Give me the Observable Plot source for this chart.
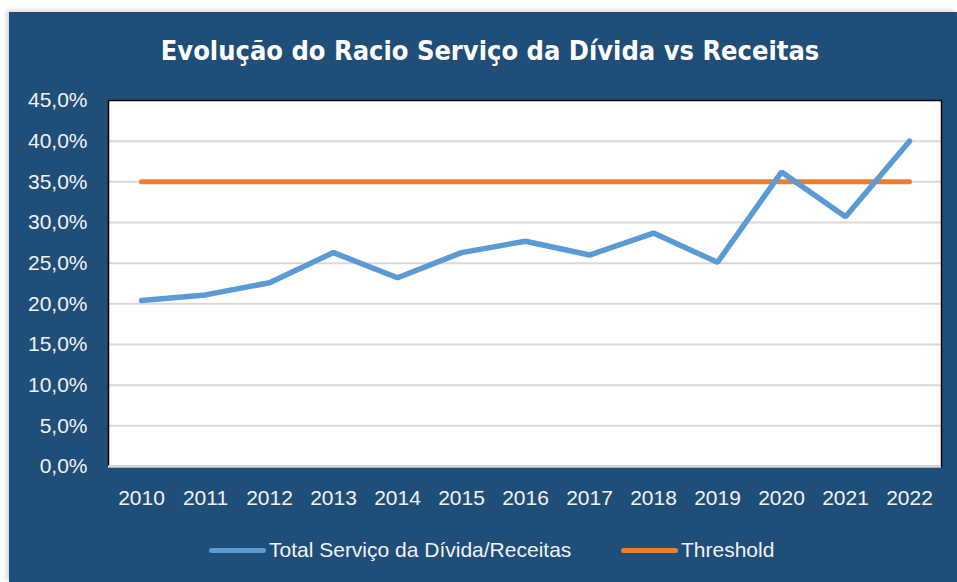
<!DOCTYPE html>
<html>
<head>
<meta charset="utf-8">
<script src="https://cdn.jsdelivr.net/npm/d3@7"></script>
<script src="https://cdn.jsdelivr.net/npm/@observablehq/plot@0.6"></script>
<style>
  html, body { margin: 0; padding: 0; background: #ffffff; width: 957px; height: 582px; overflow: hidden; }
  #panel { position: absolute; left: 9px; top: 12px; width: 948px; height: 570px; background: #1F4E79; box-shadow: -3px -2px 4px rgba(0,0,0,0.15); }
  #title { position: absolute; left: 16px; top: 31px; width: 948px; text-align: center; color: #ffffff;
           font-family: "Liberation Sans Narrow", "DejaVu Sans Condensed", sans-serif; font-weight: bold; font-size: 27px; line-height: 40px; }
  #chart { position: absolute; left: 0; top: 80px; }
  .leg { position: absolute; top: 536px; height: 28px; display: flex; align-items: center; color: #f2f2f2;
         font-family: "Liberation Sans", Arial, sans-serif; font-size: 21px; }
  .sw { width: 57px; height: 5px; border-radius: 3px; margin-right: 3px; }
</style>
</head>
<body>
<div id="panel"></div>
<div id="title">Evolução do Racio Serviço da Dívida vs Receitas</div>
<div id="chart"></div>
<div class="leg" style="left:209px"><div class="sw" style="background:#5B9BD5"></div>Total Serviço da Dívida/Receitas</div>
<div class="leg" style="left:621px"><div class="sw" style="background:#ED7D31"></div>Threshold</div>
<script>
const years = ["2010","2011","2012","2013","2014","2015","2016","2017","2018","2019","2020","2021","2022"];
const ratio = [0.204, 0.211, 0.226, 0.263, 0.232, 0.263, 0.277, 0.260, 0.287, 0.251, 0.362, 0.307, 0.400];
const threshold = [0.35, 0.35, 0.35, 0.35, 0.35, 0.35, 0.35, 0.35, 0.35, 0.35, 0.35, 0.35, 0.35];
const yTicks = [0, 0.05, 0.10, 0.15, 0.20, 0.25, 0.30, 0.35, 0.40, 0.45];

const seriesA = years.map((y, i) => ({year: y, value: ratio[i]}));
const seriesB = years.map((y, i) => ({year: y, value: threshold[i]}));
const fmt = d => (d * 100).toFixed(1).replace(".", ",") + "%";

const chart = Plot.plot({
  width: 957,
  height: 440,
  marginLeft: 108,
  marginRight: 16,
  marginTop: 20,
  marginBottom: 54,
  style: { fontFamily: "'Liberation Sans', Arial, sans-serif", fontSize: "21px", background: "transparent", color: "#f2f2f2", overflow: "visible" },
  x: { type: "point", domain: years, padding: 0.5, label: null },
  y: { domain: [0, 0.45], label: null },
  marks: [
    Plot.frame({ fill: "#ffffff", stroke: null }),
    Plot.ruleY(yTicks.slice(1, -1), { stroke: "#d9d9d9", strokeWidth: 2 }),
    Plot.frame({ stroke: "#000000", strokeWidth: 1.5, fill: null }),
    Plot.ruleY([0], { stroke: "#d9d9d9", strokeWidth: 2.5 }),
    Plot.axisY({ ticks: yTicks, tickFormat: fmt, tickSize: 0, tickPadding: 21, fill: "#f2f2f2", fontSize: 21 }),
    Plot.axisX({ tickSize: 0, tickPadding: 24, fill: "#f2f2f2", fontSize: 21 }),
    Plot.line(seriesB, { x: "year", y: "value", stroke: "#ED7D31", strokeWidth: 5, strokeLinecap: "round" }),
    Plot.line(seriesA, { x: "year", y: "value", stroke: "#5B9BD5", strokeWidth: 5.5, strokeLinecap: "round", strokeLinejoin: "miter" })
  ]
});
document.getElementById("chart").appendChild(chart);
</script>
</body>
</html>
